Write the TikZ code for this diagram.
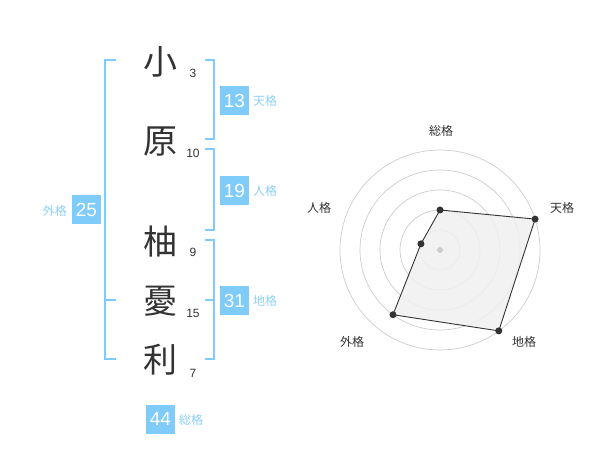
\documentclass[tikz,border=0pt]{standalone}
\usepackage{fontspec}
\setmainfont{Liberation Sans}
\newfontfamily\jp{Noto Sans CJK JP}
\definecolor{brk}{HTML}{7FCBF9}
\definecolor{lbl}{HTML}{8DCFF5}
\definecolor{ink}{HTML}{333333}
\definecolor{ring}{HTML}{CCCCCC}
\tikzset{
  kanji/.style={font=\jp\fontsize{34}{34}\selectfont, text=ink, inner sep=0pt},
  stroke/.style={font=\fontsize{12}{12}\selectfont, text=ink, inner sep=0pt},
  numbox/.style={fill=brk, text=white, minimum width=29pt, minimum height=29pt, inner sep=0pt, font=\fontsize{19}{19}\selectfont},
  kaku/.style={font=\jp\fontsize{12}{12}\selectfont, text=lbl, inner sep=0pt},
  brkline/.style={draw=brk, line width=2pt},
  radlbl/.style={font=\jp\fontsize{12}{12}\selectfont, text=ink, inner sep=0pt},
  dot/.style={circle, fill=ink, inner sep=0pt, minimum size=7pt},
}
\begin{document}
\begin{tikzpicture}[x=1pt,y=-1pt]
\useasboundingbox (0,0) rectangle (600,470);
% characters
\node[kanji] (c1) at (160,62) {小};
\node[kanji] (c2) at (160,142) {原};
\node[kanji] (c3) at (160,242) {柚};
\node[kanji] (c4) at (160,301) {憂};
\node[kanji] (c5) at (160,360) {利};
\node[stroke] (s1) at (193,73) {3};
\node[stroke] (s2) at (193,153) {10};
\node[stroke] (s3) at (193,252) {9};
\node[stroke] (s4) at (193,313) {15};
\node[stroke] (s5) at (193,373) {7};
% brackets
\coordinate (tA) at (205,60); \coordinate (tB) at (214,60);
\coordinate (tC) at (214,139); \coordinate (tD) at (205,139);
\draw[brkline] (tA) -- (tB) -- (tC) -- (tD);
\coordinate (jA) at (205,149); \coordinate (jB) at (214,149);
\coordinate (jC) at (214,230); \coordinate (jD) at (205,230);
\draw[brkline] (jA) -- (jB) -- (jC) -- (jD);
\coordinate (cA) at (205,240); \coordinate (cB) at (214,240);
\coordinate (cC) at (214,359); \coordinate (cD) at (205,359);
\coordinate (cM) at (205,300); \coordinate (cN) at (214,300);
\draw[brkline] (cA) -- (cB) -- (cC) -- (cD);
\draw[brkline] (cM) -- (cN);
\coordinate (gA) at (116,60); \coordinate (gB) at (105,60);
\coordinate (gC) at (105,359); \coordinate (gD) at (116,359);
\coordinate (gM) at (116,300); \coordinate (gN) at (105,300);
\draw[brkline] (gA) -- (gB) -- (gC) -- (gD);
\draw[brkline] (gM) -- (gN);
% boxes
\node[numbox] (b1) at (234.5,100.5) {13};
\node[kaku, anchor=west] (k1) at (253,101) {天格};
\node[numbox] (b2) at (234.5,190.5) {19};
\node[kaku, anchor=west] (k2) at (253,191) {人格};
\node[numbox] (b3) at (234.5,300.5) {31};
\node[kaku, anchor=west] (k3) at (253,301) {地格};
\node[numbox] (b4) at (86.5,210) {25};
\node[kaku, anchor=east] (k4) at (67,211) {外格};
\node[numbox] (b5) at (160.5,419) {44};
\node[kaku, anchor=west] (k5) at (179,420) {総格};
% radar
\coordinate (o) at (440,250);
\begin{scope}[shift={(o)}]
  \foreach \r in {20,40,60,80,100} \draw[ring, line width=0.7pt] (0,0) circle[radius=\r pt];
  \coordinate (p1) at (90:40pt);
  \coordinate (p2) at (18:100pt);
  \coordinate (p3) at (-54:100pt);
  \coordinate (p4) at (-126:80pt);
  \coordinate (p5) at (162:20pt);
  \filldraw[fill=black!6, fill opacity=0.85, draw=ink, line width=0.9pt] (p1) -- (p2) -- (p3) -- (p4) -- (p5) -- cycle;
  \node[circle, fill=ring, inner sep=0pt, minimum size=6pt] (ctr) at (0,0) {};
  \node[dot] (d1) at (p1) {};
  \node[dot] (d2) at (p2) {};
  \node[dot] (d3) at (p3) {};
  \node[dot] (d4) at (p4) {};
  \node[dot] (d5) at (p5) {};
\end{scope}
\node[radlbl] (r1) at (441,131) {総格};
\node[radlbl] (r2) at (562,208) {天格};
\node[radlbl] (r3) at (524,342) {地格};
\node[radlbl] (r4) at (352,342) {外格};
\node[radlbl] (r5) at (319,208) {人格};
\end{tikzpicture}
\end{document}
